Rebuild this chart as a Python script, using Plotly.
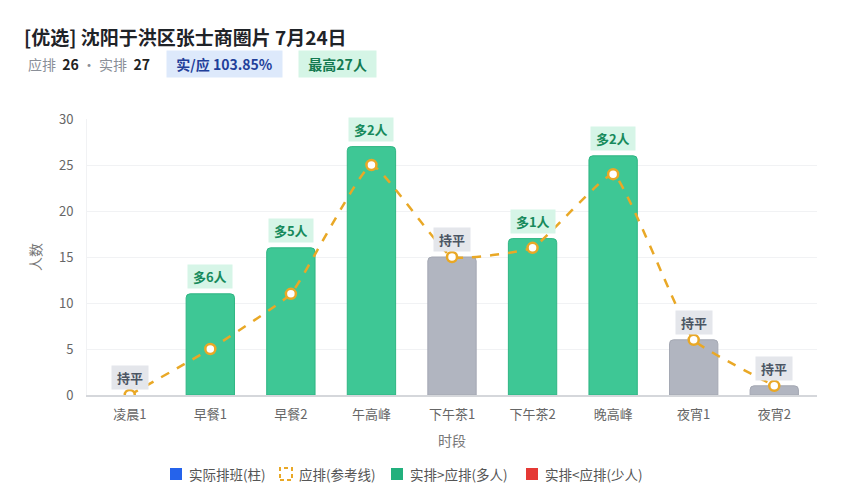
import plotly.graph_objects as go

# -------------------------
# Data
# -------------------------
periods = ["凌晨1", "早餐1", "早餐2", "午高峰", "下午茶1", "下午茶2", "晚高峰", "夜宵1", "夜宵2"]
actual = [0, 11, 16, 27, 15, 17, 26, 6, 1]
planned = [0, 5, 11, 25, 15, 16, 24, 6, 1]

TITLE = "[优选] 沈阳于洪区张士商圈片 7月24日"
PLAN_TOTAL = 26
ACTUAL_TOTAL = 27
RATIO_TEXT = "实/应 103.85%"
PEAK_TEXT = "最高27人"
legend_names = ["实际排班(柱)", "应排(参考线)", "实排>应排(多人)", "实排<应排(少人)"]

FONT = "Noto Sans CJK SC"
GREEN = "#3ec795"
GREEN_EDGE = "#2fb583"
GRAY = "#b1b5c0"
GRAY_EDGE = "#a4a8b3"
ORANGE = "#e9a826"
BLUE = "#2563eb"
RED = "#e53935"

# page body adds an 8px margin, so the figure is drawn at 841x492
PLOT_L, PLOT_R, PLOT_T, PLOT_B = 87, 817, 119, 395


def px(x):
    return (x - PLOT_L) / (PLOT_R - PLOT_L)


def py(y):
    return (PLOT_B - y) / (PLOT_B - PLOT_T)


bar_colors = []
edge_colors = []
for a, p in zip(actual, planned):
    if a > p:
        bar_colors.append(GREEN)
        edge_colors.append(GREEN_EDGE)
    elif a < p:
        bar_colors.append(RED)
        edge_colors.append(RED)
    else:
        bar_colors.append(GRAY)
        edge_colors.append(GRAY_EDGE)
edge_widths = [0 if a == 0 else 1 for a in actual]

fig = go.Figure()

fig.add_trace(go.Bar(
    x=periods,
    y=actual,
    width=0.6,
    marker=dict(color=bar_colors, line=dict(color=edge_colors, width=edge_widths), cornerradius=4),
    showlegend=False,
    hoverinfo="x+y"
))

fig.add_trace(go.Scatter(
    x=periods,
    y=planned,
    mode="lines+markers",
    line=dict(color=ORANGE, width=2.5, dash="dash", shape="spline", smoothing=0.35),
    marker=dict(size=10, color="white", line=dict(color=ORANGE, width=2.5)),
    showlegend=False
))

# badges above bars
for x, a, p in zip(periods, actual, planned):
    diff = a - p
    if diff > 0:
        text, bg, fg = f"多{diff}人", "#d6f5e7", "#178a5c"
    elif diff < 0:
        text, bg, fg = f"少{-diff}人", "#fde2e2", "#c62828"
    else:
        text, bg, fg = "持平", "#e4e6eb", "#4b5563"
    fig.add_annotation(
        x=x, y=max(a, p),
        text=f"<b>&nbsp;{text}&nbsp;</b>",
        showarrow=False,
        yanchor="bottom",
        yshift=5,
        bgcolor=bg,
        borderpad=2,
        font=dict(family=FONT, size=13, color=fg)
    )

# header line 2
sub_y = py(64)
fig.add_annotation(
    xref="paper", yref="paper", x=px(26), y=sub_y,
    xanchor="left", yanchor="middle",
    text=(f"<span style='color:#8a8f98'>应排</span>&nbsp; <b>{PLAN_TOTAL}</b> "
          f"<span style='color:#8a8f98'>· 实排</span>&nbsp; <b>{ACTUAL_TOTAL}</b>"),
    showarrow=False,
    font=dict(family=FONT, size=14, color="#222")
)
fig.add_annotation(
    xref="paper", yref="paper", x=px(166), y=sub_y,
    xanchor="left", yanchor="middle",
    text=f"<b>&nbsp;&nbsp;{RATIO_TEXT}&nbsp;&nbsp;</b>",
    showarrow=False,
    bgcolor="#dde9fb",
    borderpad=3,
    font=dict(family=FONT, size=14, color="#1f3f9a")
)
fig.add_annotation(
    xref="paper", yref="paper", x=px(298), y=sub_y,
    xanchor="left", yanchor="middle",
    text=f"<b>&nbsp;&nbsp;{PEAK_TEXT}&nbsp;&nbsp;</b>",
    showarrow=False,
    bgcolor="#d5f5e6",
    borderpad=3,
    font=dict(family=FONT, size=14, color="#137a50")
)

# legend (drawn by hand to match the compact spacing)
legend_left = [170, 280, 391, 526]
legend_style = [
    dict(fillcolor=BLUE, line=dict(width=0)),
    dict(fillcolor="rgba(0,0,0,0)", line=dict(color=ORANGE, width=2, dash="4px,3px")),
    dict(fillcolor="#22b07d", line=dict(width=0)),
    dict(fillcolor=RED, line=dict(width=0)),
]
leg_y = 474
for name, left, style in zip(legend_names, legend_left, legend_style):
    fig.add_shape(
        type="rect", xref="paper", yref="paper",
        x0=px(left), x1=px(left + 12), y0=py(leg_y + 6), y1=py(leg_y - 6),
        **style
    )
    fig.add_annotation(
        xref="paper", yref="paper", x=px(left + 17), y=py(leg_y),
        xanchor="left", yanchor="middle",
        text=name, showarrow=False,
        font=dict(family=FONT, size=13.5, color="#555")
    )

fig.update_layout(
    title=dict(
        text=f"<b>{TITLE}</b>",
        x=0.019, xanchor="left",
        y=1 - (38 - 8) / 492, yanchor="middle",
        font=dict(family=FONT, size=19, color="#1f2328")
    ),
    width=841,
    height=492,
    margin=dict(l=PLOT_L - 8, r=849 - PLOT_R, t=PLOT_T - 8, b=500 - PLOT_B),
    paper_bgcolor="white",
    plot_bgcolor="white",
    font=dict(family=FONT, size=13, color="#666"),
    showlegend=False,
    xaxis=dict(
        title=dict(text="时段", font=dict(size=14, color="#777"), standoff=14),
        showline=True,
        linecolor="#d5d7db",
        linewidth=1.5,
        ticks="",
        ticklabelstandoff=7,
        tickfont=dict(size=13, color="#666")
    ),
    yaxis=dict(
        title=dict(text="人数", font=dict(size=14, color="#777"), standoff=14),
        range=[0, 30],
        dtick=5,
        gridcolor="#f1f2f4",
        zeroline=False,
        showline=True,
        linecolor="#f1f2f4",
        ticklabelstandoff=10,
        tickfont=dict(size=13, color="#666")
    )
)

fig.write_html("out.html")
